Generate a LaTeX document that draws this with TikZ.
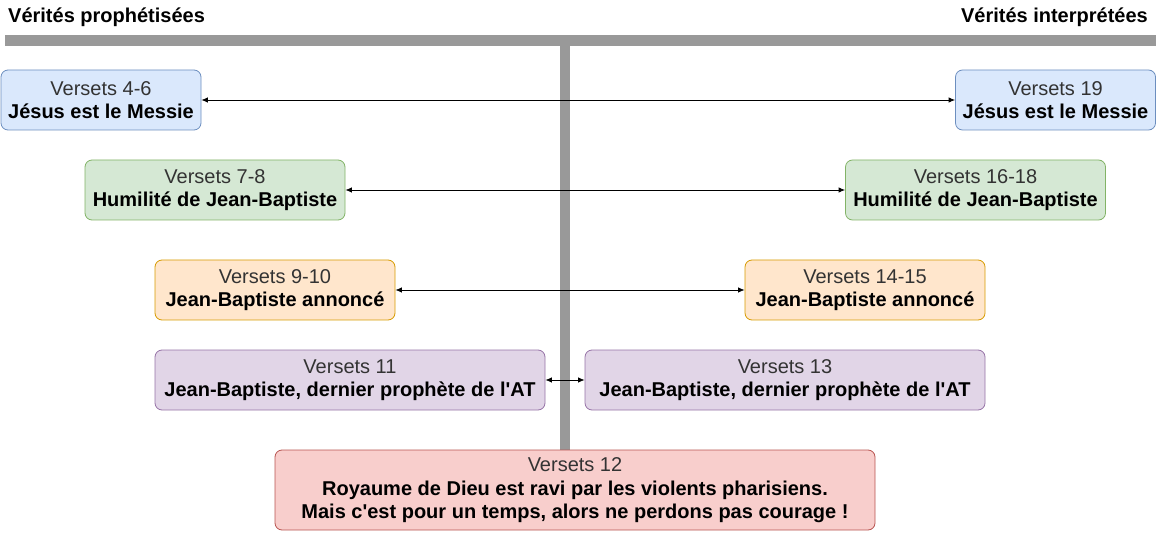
\documentclass[tikz,border=0pt]{standalone}
\usepackage{fontspec}
\setmainfont{Liberation Sans}
\usetikzlibrary{arrows.meta}

\definecolor{bluefill}{HTML}{DAE8FC}
\definecolor{bluedraw}{HTML}{6C8EBF}
\definecolor{greenfill}{HTML}{D5E8D4}
\definecolor{greendraw}{HTML}{82B366}
\definecolor{orangefill}{HTML}{FFE6CC}
\definecolor{orangedraw}{HTML}{D79B00}
\definecolor{purplefill}{HTML}{E1D5E7}
\definecolor{purpledraw}{HTML}{9673A6}
\definecolor{redfill}{HTML}{F8CECC}
\definecolor{reddraw}{HTML}{B85450}
\definecolor{barcolor}{HTML}{999999}
\definecolor{versetext}{HTML}{333333}

\tikzset{versebox/.style={rectangle, rounded corners=7pt, draw, line width=0.8pt, align=center, inner sep=0pt, minimum height=60pt, font=\fontsize{20}{23}\selectfont}}
\tikzset{link/.style={{Latex[length=6.5pt,width=5.5pt]}-{Latex[length=6.5pt,width=5.5pt]}, line width=0.8pt}}

\newcommand{\verses}[2]{\textcolor{versetext}{#1}\\\textbf{#2}}

\begin{document}
\begin{tikzpicture}[x=1pt, y=-1pt]
			\useasboundingbox (0,0) rectangle (1162,537);
			% Define titles and bars
			\node[anchor=base west, inner sep=0pt, font=\fontsize{20}{23}\selectfont\bfseries] (prophetised) at (8,23) {Vérités prophétisées};
			\node[anchor=base east, inner sep=0pt, font=\fontsize{20}{23}\selectfont\bfseries] (interpreted) at (1148,23) {Vérités interprétées};
			\coordinate (barL) at (5,40.5);
			\coordinate (barR) at (1156,40.5);
			\coordinate (barTop) at (565,40.5);
			\coordinate (barBottom) at (565,450);
			\draw[barcolor, line width=10.5pt] (barL) -- (barR);
			\draw[barcolor, line width=10pt] (barTop) -- (barBottom);
			
			% Define verse boxes, left side
			\node[versebox, fill=bluefill, draw=bluedraw, minimum width=200pt] (L1) at (101,100) {\verses{Versets 4-6}{Jésus est le Messie}};
			\node[versebox, fill=greenfill, draw=greendraw, minimum width=260pt] (L2) at (215,190) {\verses{Versets 7-8}{Humilité de Jean-Baptiste}};
			\node[versebox, fill=orangefill, draw=orangedraw, minimum width=240pt] (L3) at (275,290) {\verses{Versets 9-10}{Jean-Baptiste annoncé}};
			\node[versebox, fill=purplefill, draw=purpledraw, minimum width=390pt] (L4) at (350,380) {\verses{Versets 11}{Jean-Baptiste, dernier prophète de l\textquotesingle AT}};
			
			% Define verse boxes, right side
			\node[versebox, fill=bluefill, draw=bluedraw, minimum width=200pt] (R1) at (1055.5,100) {\verses{Versets 19}{Jésus est le Messie}};
			\node[versebox, fill=greenfill, draw=greendraw, minimum width=260pt] (R2) at (975.5,190) {\verses{Versets 16-18}{Humilité de Jean-Baptiste}};
			\node[versebox, fill=orangefill, draw=orangedraw, minimum width=240pt] (R3) at (865,290) {\verses{Versets 14-15}{Jean-Baptiste annoncé}};
			\node[versebox, fill=purplefill, draw=purpledraw, minimum width=400pt] (R4) at (785,380) {\verses{Versets 13}{Jean-Baptiste, dernier prophète de l\textquotesingle AT}};
			
			% Define centre box
			\node[versebox, fill=redfill, draw=reddraw, minimum width=600pt, minimum height=80pt, font=\fontsize{20}{22.5}\selectfont] (C) at (575,490) {\textcolor{versetext}{Versets 12}\\[2pt]\textbf{Royaume de Dieu est ravi par les violents pharisiens.}\\\textbf{Mais c\textquotesingle est pour un temps, alors ne perdons pas courage !}};
			
			% Draw links between matching verses
			\draw[link] (L1) -- (R1);
			\draw[link] (L2) -- (R2);
			\draw[link] (L3) -- (R3);
			\draw[link] (L4) -- (R4);
		\end{tikzpicture}
\end{document}
